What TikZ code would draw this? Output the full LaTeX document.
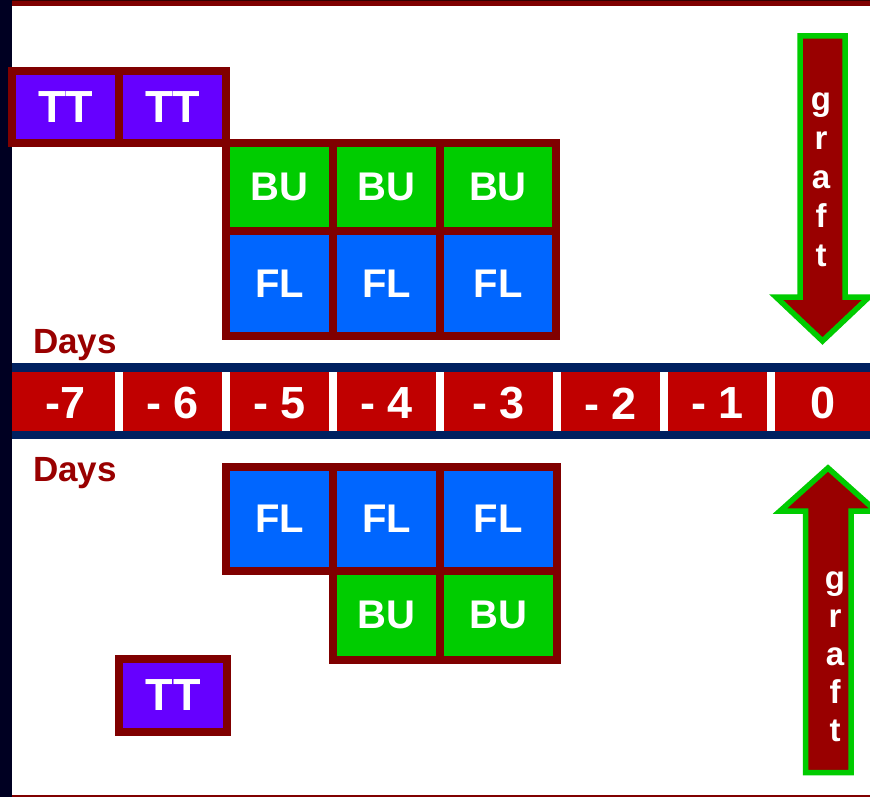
\documentclass[tikz,border=0pt]{standalone}
\usepackage{fontspec}
\setmainfont{Liberation Sans}
\definecolor{edge}{HTML}{800000}
\definecolor{ttfill}{HTML}{6600FF}
\definecolor{bufill}{HTML}{00CC00}
\definecolor{flfill}{HTML}{0066FF}
\definecolor{barred}{HTML}{C00000}
\definecolor{barnavy}{HTML}{002060}
\definecolor{dayred}{HTML}{990000}
\definecolor{arrowred}{HTML}{990000}
\definecolor{arrowgreen}{HTML}{00CC00}
\definecolor{sidebar}{HTML}{000022}
\tikzset{
  cell/.style 2 args={draw=edge, line width=8pt, inner sep=0pt, text=white,
    minimum width=#1, minimum height=#2, font=\fontsize{40}{40}\selectfont\bfseries},
  ttcell/.style 2 args={cell={#1}{#2}, fill=ttfill, font=\fontsize{45}{45}\selectfont\bfseries},
  bucell/.style 2 args={cell={#1}{#2}, fill=bufill},
  flcell/.style 2 args={cell={#1}{#2}, fill=flfill},
  daylabel/.style={inner sep=0pt, text=white, font=\fontsize{45}{45}\selectfont\bfseries},
  dayshead/.style={inner sep=0pt, anchor=base west, text=dayred, font=\fontsize{35}{35}\selectfont\bfseries},
  graftletter/.style={inner sep=0pt, anchor=base, text=white, font=\fontsize{33}{33}\selectfont\bfseries},
  grafthull/.style={fill=arrowred, draw=arrowgreen, line width=5.5pt, line join=miter},
}
\begin{document}
\begin{tikzpicture}[x=1pt, y=-1pt]
\useasboundingbox (0,0) rectangle (870,797);
\fill[white] (0,0) rectangle (870,797);

% frame: dark side strip, top and bottom rules
\fill[sidebar] (0,0) rectangle (12,797);
\fill[edge] (12,0) rectangle (870,6);
\fill[black!60!edge] (12,0) rectangle (870,1.5);
\fill[edge] (12,795) rectangle (870,797);

% upper schedule
\node[ttcell={107pt}{72pt}] (tt1) at (65.5,107) {TT};
\node[ttcell={107pt}{72pt}] (tt2) at (172.5,107) {TT};
\node[bucell={107pt}{88pt}] (bu1) at (279.5,187) {BU};
\node[bucell={107pt}{88pt}] (bu2) at (386.5,187) {BU};
\node[bucell={116pt}{88pt}] (bu3) at (498,187) {BU};
\node[flcell={107pt}{105pt}] (fl1) at (279.5,283.5) {FL};
\node[flcell={107pt}{105pt}] (fl2) at (386.5,283.5) {FL};
\node[flcell={116pt}{105pt}] (fl3) at (498,283.5) {FL};

\node[dayshead] (days1) at (33,353) {Days};

% day scale
\fill[barnavy] (12,363) rectangle (870,439);
\fill[barred] (12,372) rectangle (870,431);
\foreach \sx in {119,226,333,440,557,664,771}
  \fill[white] (\sx-4,372) rectangle (\sx+4,431);
\node[daylabel] (dm7) at (65.5,403.5) {-7};
\node[daylabel] (dm6) at (172.5,403.5) {- 6};
\node[daylabel] (dm5) at (279.5,403.5) {- 5};
\node[daylabel] (dm4) at (386.5,403.5) {- 4};
\node[daylabel] (dm3) at (498.5,403.5) {- 3};
\node[daylabel] (dm2) at (610.5,403.5) {- 2};
\node[daylabel] (dm1) at (717.5,403.5) {- 1};
\node[daylabel] (d0) at (823,403.5) {0};

\node[dayshead] (days2) at (33,481) {Days};

% lower schedule
\node[flcell={107pt}{104pt}] (lfl1) at (279.5,518.5) {FL};
\node[flcell={107pt}{104pt}] (lfl2) at (386.5,518.5) {FL};
\node[flcell={116.5pt}{104pt}] (lfl3) at (498.25,518.5) {FL};
\node[bucell={107pt}{89pt}] (lbu2) at (386.5,615) {BU};
\node[bucell={116.5pt}{89pt}] (lbu3) at (498.25,615) {BU};
\node[ttcell={108pt}{73pt}] (ltt) at (173,695.5) {TT};

% graft arrows
\draw[grafthull] (800,36) -- (845,36) -- (845,297) -- (869,297) -- (822.5,341)
  -- (776,297) -- (800,297) -- cycle;
\foreach \ch [count=\i] in {g,r,a,f,t}
  \node[graftletter] (gd\i) at (821,{111+38.8*(\i-1)}) {\ch};

\draw[grafthull] (805.5,772.5) -- (851,772.5) -- (851,511) -- (876,511) -- (828,468)
  -- (780,511) -- (805.5,511) -- cycle;
\foreach \ch [count=\i] in {g,r,a,f,t}
  \node[graftletter] (gu\i) at (835,{589+38*(\i-1)}) {\ch};
\end{tikzpicture}
\end{document}
